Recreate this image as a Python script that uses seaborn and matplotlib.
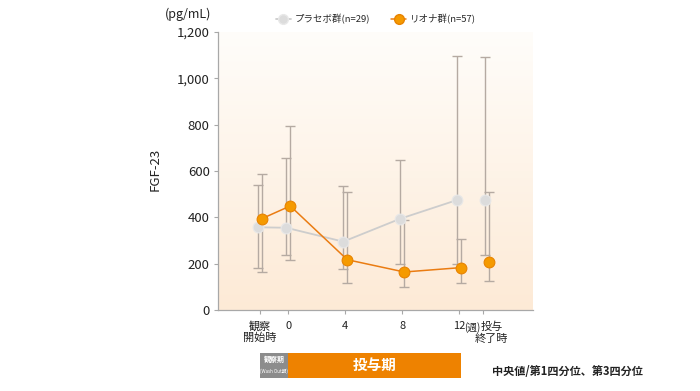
import matplotlib.pyplot as plt
import numpy as np
import pandas as pd
import seaborn as sns
from matplotlib.colors import LinearSegmentedColormap
from matplotlib.lines import Line2D
from matplotlib.patches import Rectangle
from matplotlib.transforms import blended_transform_factory

# data (median / Q1 / Q3, pg/mL)
x_pos = [-2, 0, 4, 8, 12, 13.95]
tick_labels = ['観察\n開始時', '0', '4', '8', '12', '']
placebo_med = [357, 355, 295, 394, 475, 473]
placebo_q1 = [180, 236, 177, 197, 197, 236]
placebo_q3 = [539, 655, 534, 646, 1096, 1092]
riona_med = [394, 449, 217, 164, 183, 208]
riona_q1 = [163, 214, 115, 98, 115, 125]
riona_q3 = [586, 795, 508, 390, 305, 508]
y_ticks = [0, 200, 400, 600, 800, 1000, 1200]

sns.set_theme(style='white')
plt.rcParams['font.family'] = ['Noto Sans CJK JP', 'DejaVu Sans']

fig = plt.figure(figsize=(7, 3.91), dpi=100)
ax = fig.add_axes([0.3114, 0.2072, 0.45, 0.711])

xlim = (-4.93, 17.17)
ax.set_xlim(*xlim)
ax.set_ylim(0, 1200)

# background gradient
cmap = LinearSegmentedColormap.from_list('bg', ['#fdead6', '#fffdfa'])
grad = np.linspace(0, 1, 256).reshape(-1, 1)
ax.imshow(grad, extent=[xlim[0], xlim[1], 0, 1200], origin='lower',
          aspect='auto', cmap=cmap, zorder=0)

off = 0.14
px = [x - off for x in x_pos]
rx = [x + off for x in x_pos]
df = pd.DataFrame({
    'x': px + rx,
    'med': placebo_med + riona_med,
    'group': ['placebo'] * 6 + ['riona'] * 6,
})

err_c = '#b5aaa2'
ax.errorbar(px, placebo_med,
            yerr=[np.array(placebo_med) - np.array(placebo_q1),
                  np.array(placebo_q3) - np.array(placebo_med)],
            fmt='none', ecolor=err_c, elinewidth=1, capsize=3.5, capthick=1, zorder=2)
ax.errorbar(rx, riona_med,
            yerr=[np.array(riona_med) - np.array(riona_q1),
                  np.array(riona_q3) - np.array(riona_med)],
            fmt='none', ecolor=err_c, elinewidth=1, capsize=3.5, capthick=1, zorder=2)

# connecting lines (not to the end-of-treatment point)
conn = df[df['x'] < 13]
sns.lineplot(data=conn[conn.group == 'placebo'], x='x', y='med', color='#cdcdcd',
             lw=1.3, ax=ax, zorder=3, legend=False)
sns.lineplot(data=conn[conn.group == 'riona'], x='x', y='med', color='#ea7c12',
             lw=1.1, ax=ax, zorder=3, legend=False)
sns.scatterplot(data=df[df.group == 'placebo'], x='x', y='med', s=60, color='#dcdcdc',
                edgecolor='#e8e8e8', linewidth=0.8, ax=ax, zorder=4, legend=False)
sns.scatterplot(data=df[df.group == 'riona'], x='x', y='med', s=60, color='#f59a00',
                edgecolor='#e88300', linewidth=0.8, ax=ax, zorder=5, legend=False)

# axes styling
for s in ['top', 'right']:
    ax.spines[s].set_visible(False)
for s in ['left', 'bottom']:
    ax.spines[s].set_color('#a8a8a8')
    ax.spines[s].set_linewidth(0.9)
ax.set_yticks(y_ticks)
ax.set_yticklabels([f'{v:,}' for v in y_ticks], fontsize=9.5, color='#222222')
ax.set_xticks([-2, 0, 4, 8, 12, 13.65])
ax.set_xticklabels(tick_labels, fontsize=8, color='#222222', linespacing=1.15)
ax.tick_params(axis='both', length=3, width=0.8, color='#a8a8a8', pad=3,
               bottom=True, left=True)
ax.tick_params(axis='x', pad=5)
ax.set_xlabel('')
ax.set_ylabel('FGF-23', fontsize=9.5, color='#222222')
ax.yaxis.set_label_coords(-0.178, 0.504)

trans = blended_transform_factory(ax.transData, ax.transAxes)
ax.text(12.33, -0.043, '(週)', transform=trans, ha='left', va='top',
        fontsize=7, color='#222222')
ax.text(14.3, -0.041, '投与', transform=trans, ha='center', va='top',
        fontsize=8, color='#222222')
ax.text(14.25, -0.085, '終了時', transform=trans, ha='center', va='top',
        fontsize=8, color='#222222')

# unit
fig.text(0.269, 0.962, '(pg/mL)', ha='center', va='center', fontsize=9, color='#222222')

# legend
handles = [
    Line2D([], [], color='#cdcdcd', lw=1.3, marker='o', ms=7, mfc='#dcdcdc', mec='#e8e8e8'),
    Line2D([], [], color='#ea7c12', lw=1.1, marker='o', ms=7, mfc='#f59a00', mec='#e88300'),
]
fig.legend(handles, ['プラセボ群(n=29)', 'リオナ群(n=57)'], loc='center',
           bbox_to_anchor=(0.537, 0.951), ncol=2, frameon=False, fontsize=6.8,
           handlelength=1.6, handletextpad=0.4, columnspacing=2.2)

# period bar
btr = blended_transform_factory(ax.transData, fig.transFigure)
ax.add_patch(Rectangle((-2, 0.034), 2, 0.064, transform=btr, clip_on=False,
                       facecolor='#8c8c8c', edgecolor='none'))
ax.add_patch(Rectangle((0, 0.034), 12.1, 0.064, transform=btr, clip_on=False,
                       facecolor='#ee8200', edgecolor='none'))
ax.text(-1, 0.080, '観察期', transform=btr, ha='center', va='center',
        fontsize=5, color='white', fontweight='bold')
ax.text(-1, 0.050, '(Wash Out期)', transform=btr, ha='center', va='center',
        fontsize=3.3, color='white')
ax.text(6.05, 0.066, '投与期', transform=btr, ha='center', va='center',
        fontsize=10.5, color='white', fontweight='bold')

fig.text(0.919, 0.049, '中央値/第1四分位、第3四分位', ha='right', va='center',
         fontsize=8, color='#222222', fontweight='bold')

fig.savefig('out.png', dpi=100)
